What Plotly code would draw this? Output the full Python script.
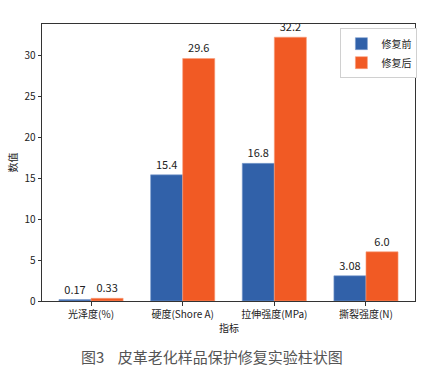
import plotly.graph_objects as go

categories = ["光泽度(%)", "硬度(Shore A)", "拉伸强度(MPa)", "撕裂强度(N)"]
before = [0.17, 15.4, 16.8, 3.08]
after = [0.33, 29.6, 32.2, 6.0]
before_labels = ["0.17", "15.4", "16.8", "3.08"]
after_labels = ["0.33", "29.6", "32.2", "6.0"]
y_ticks = [0, 5, 10, 15, 20, 25, 30]

FONT = "Noto Sans CJK SC, DejaVu Sans, sans-serif"
BLUE = "#3161A9"
ORANGE = "#F15A24"

fig = go.Figure()
fig.add_trace(go.Bar(
    x=categories, y=before, name="修复前", text=before_labels,
    textposition="outside", marker=dict(color=BLUE, line=dict(color="#7f9fd0", width=0.6)),
    textfont=dict(size=11, color="#222", family=FONT), cliponaxis=False,
))
fig.add_trace(go.Bar(
    x=categories, y=after, name="修复后", text=after_labels,
    textposition="outside", marker=dict(color=ORANGE, line=dict(color="#f8a07c", width=0.6)),
    textfont=dict(size=11, color="#222", family=FONT), cliponaxis=False,
))

fig.update_layout(
    width=433, height=374,
    margin=dict(l=42, r=18, t=24, b=73),
    barmode="group", bargap=0.3, bargroupgap=0,
    plot_bgcolor="white", paper_bgcolor="white",
    font=dict(family=FONT, size=10, color="#222"),
    showlegend=True,
    legend=dict(x=0.80, y=0.985, xanchor="left", yanchor="top",
                bgcolor="white", bordercolor="#d0d0d0", borderwidth=1,
                font=dict(size=10, family=FONT, color="#222"),
                itemwidth=30, tracegroupgap=2),
    xaxis=dict(range=[-0.535, 3.535], showline=True, linecolor="#333", linewidth=1,
               mirror=True, ticks="outside", ticklen=3.5, tickcolor="#333",
               tickfont=dict(size=10, family=FONT, color="#222"), showgrid=False),
    yaxis=dict(range=[0, 33.81], tickvals=y_ticks, showline=True, linecolor="#333",
               linewidth=1, mirror=True, ticks="outside", ticklen=3.5, tickcolor="#333",
               tickfont=dict(size=10, family=FONT, color="#222"), showgrid=False,
               zeroline=False),
    annotations=[
        dict(text="指标", xref="paper", yref="paper", x=0.5, y=-0.095,
             xanchor="center", yanchor="middle", showarrow=False,
             font=dict(size=10, family=FONT, color="#222")),
        dict(text="数值", xref="paper", yref="paper", x=-0.078, y=0.5,
             xanchor="center", yanchor="middle", showarrow=False, textangle=-90,
             font=dict(size=10, family=FONT, color="#222")),
        dict(text="图3 \u00a0\u00a0 皮革老化样品保护修复实验柱状图", xref="paper", yref="paper",
             x=0.4565, y=-0.199, xanchor="center", yanchor="middle", showarrow=False,
             font=dict(size=15, family=FONT, color="#555")),
    ],
)

fig.write_html("out.html", config={"displayModeBar": False},
               post_script="document.body.style.margin='0';")
